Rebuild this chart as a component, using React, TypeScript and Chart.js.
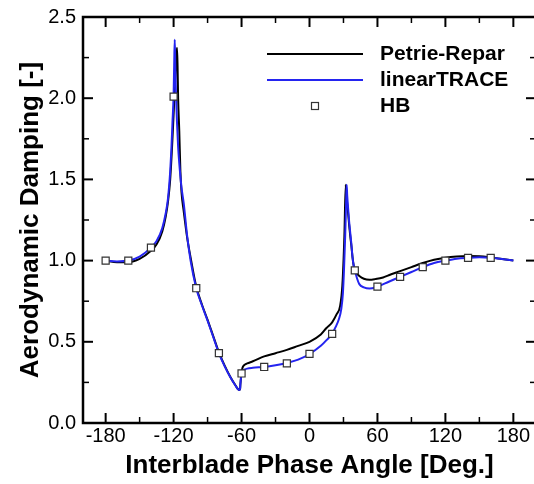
import React, { useEffect, useRef } from "react";
import { Chart, registerables } from "chart.js";

Chart.register(...registerables);

// Petrie-Repar (black line)
const petrieAngle = [
  -180, -170, -160, -150, -140, -135, -130, -127, -125, -123, -121, -120, -119, -118, -117,
  -116.5, -116, -115, -114, -113, -111, -108, -105, -100, -95, -90, -85, -80, -75, -70,
  -65, -63, -62, -61.3, -61, -60.3, -59.5, -58.5, -57, -55, -50, -40, -30, -20, -10, 0, 10,
  15, 20, 24, 27, 29, 30.8, 32, 32.6, 33.3, 34, 35, 36, 37, 38, 39, 40, 42, 44, 48, 53, 58,
  65, 70, 80, 90, 100, 110, 120, 130, 140, 150, 160, 170, 180,
];
const petrieValue = [
  1.0, 0.99, 0.99, 1.01, 1.06, 1.1, 1.18, 1.27, 1.36, 1.5, 1.75, 1.9, 2.05, 2.2, 2.31,
  2.2, 2.0, 1.8, 1.55, 1.42, 1.3, 1.14, 1.02, 0.84, 0.73, 0.635, 0.535, 0.435, 0.355, 0.285,
  0.228, 0.208, 0.203, 0.21, 0.24, 0.29, 0.33, 0.35, 0.36, 0.367, 0.38, 0.41, 0.43, 0.45, 0.475, 0.5, 0.545,
  0.585, 0.62, 0.67, 0.72, 0.846, 1.15, 1.467, 1.4, 1.35, 1.3, 1.22, 1.15, 1.09, 1.02, 0.97, 0.94, 0.92, 0.905, 0.888, 0.882, 0.886,
  0.896, 0.91, 0.935, 0.96, 0.985, 1.005, 1.018, 1.025, 1.028, 1.027, 1.02, 1.01, 1.0,
];

// linearTRACE (blue line)
const traceAngle = [
  -180, -170, -160, -150, -140, -135, -130, -127, -125, -123, -122, -121, -120, -119.5, -119,
  -118.5, -118, -117, -116, -115, -113, -111, -108, -105, -100, -95, -90, -85, -80, -75, -70,
  -65, -63, -62, -61.3, -61, -60.5, -60, -59, -57, -55, -50, -45, -40, -30, -20, -10, 0,
  10, 15, 20, 23, 26, 28, 29.5, 30.5, 31.5, 32.3, 32.8, 33.3, 34, 35, 36, 37, 38, 39, 40, 42,
  44, 48, 53, 60, 70, 80, 90, 100, 110, 120, 130, 140, 150, 160, 170, 180,
];
const traceValue = [
  1.0, 0.995, 1.0, 1.025, 1.08, 1.12, 1.2, 1.29, 1.38, 1.55, 1.68, 1.85, 2.02, 2.2, 2.36,
  2.2, 2.05, 1.85, 1.7, 1.6, 1.45, 1.35, 1.15, 1.0, 0.83, 0.725, 0.63, 0.53, 0.43, 0.35, 0.283,
  0.226, 0.207, 0.203, 0.21, 0.24, 0.28, 0.305, 0.32, 0.33, 0.335, 0.34, 0.343, 0.345, 0.355, 0.37, 0.39, 0.425,
  0.475, 0.51, 0.55, 0.59, 0.64, 0.7, 0.8, 0.95, 1.15, 1.35, 1.467, 1.4, 1.33, 1.24, 1.17, 1.1, 1.02, 0.97, 0.94, 0.89,
  0.855, 0.835, 0.828, 0.84, 0.87, 0.9, 0.93, 0.96, 0.985, 1.0, 1.012, 1.017, 1.02, 1.017, 1.01, 1.0,
];

// HB (square markers)
const hbAngle = [-180, -160, -140, -120, -100, -80, -60, -40, -20, 0, 20, 40, 60, 80, 100, 120, 140, 160];
const hbValue = [1.0, 1.0, 1.08, 2.01, 0.83, 0.43, 0.305, 0.345, 0.367, 0.426, 0.549, 0.94, 0.84, 0.9, 0.96, 1.0, 1.017, 1.017];

const xTickValues = [-180, -120, -60, 0, 60, 120, 180];
const xMinorTickValues = [-150, -90, -30, 30, 90, 150];
const yTickValues = [0, 0.5, 1.0, 1.5, 2.0, 2.5];
const yMinorTickValues = [0.25, 0.75, 1.25, 1.75, 2.25];

const legendLabels = ["Petrie-Repar", "linearTRACE", "HB"];
const xTitle = "Interblade Phase Angle [Deg.]";
const yTitle = "Aerodynamic Damping [-]";

const FONT = '"Liberation Sans", Arial, Helvetica, sans-serif';
const BLUE = "#2424f0";

const framePlugin = {
  id: "frame",
  afterDraw(chart: any) {
    const { ctx, chartArea } = chart;
    const { left, right, top, bottom } = chartArea;
    const xs = chart.scales.x;
    const ys = chart.scales.y;
    ctx.save();
    ctx.strokeStyle = "#000";
    ctx.lineCap = "butt";
    const tick = (x1: number, y1: number, x2: number, y2: number, w: number) => {
      ctx.lineWidth = w;
      ctx.beginPath();
      ctx.moveTo(x1, y1);
      ctx.lineTo(x2, y2);
      ctx.stroke();
    };
    xTickValues.forEach((v) => {
      const px = xs.getPixelForValue(v);
      tick(px, bottom, px, bottom - 10, 2);
      tick(px, top, px, top + 10, 2);
    });
    xMinorTickValues.forEach((v) => {
      const px = xs.getPixelForValue(v);
      tick(px, bottom, px, bottom - 6, 1.5);
      tick(px, top, px, top + 6, 1.5);
    });
    yTickValues.forEach((v) => {
      const py = ys.getPixelForValue(v);
      tick(left, py, left + 10, py, 2);
      tick(right, py, right - 10, py, 2);
    });
    yMinorTickValues.forEach((v) => {
      const py = ys.getPixelForValue(v);
      tick(left, py, left + 6, py, 1.5);
      tick(right, py, right - 6, py, 1.5);
    });
    ctx.lineWidth = 2.5;
    ctx.strokeRect(left, top, right - left, bottom - top);

    // legend
    const lx1 = 267;
    const lx2 = 363;
    const tx = 380;
    const rows = [54, 80, 106];
    ctx.lineWidth = 2;
    ctx.strokeStyle = "#000";
    ctx.beginPath();
    ctx.moveTo(lx1, rows[0]);
    ctx.lineTo(lx2, rows[0]);
    ctx.stroke();
    ctx.strokeStyle = BLUE;
    ctx.beginPath();
    ctx.moveTo(lx1, rows[1]);
    ctx.lineTo(lx2, rows[1]);
    ctx.stroke();
    ctx.fillStyle = "#fff";
    ctx.strokeStyle = "#333";
    ctx.lineWidth = 1.2;
    ctx.fillRect(311.5, rows[2] - 3.5, 7, 7);
    ctx.strokeRect(311.5, rows[2] - 3.5, 7, 7);
    ctx.fillStyle = "#000";
    ctx.font = `bold 21px ${FONT}`;
    ctx.textBaseline = "middle";
    ctx.textAlign = "left";
    legendLabels.forEach((t, i) => ctx.fillText(t, tx, rows[i]));
    ctx.restore();
  },
};

export default function App() {
  const ref = useRef<HTMLCanvasElement | null>(null);
  useEffect(() => {
    if (!ref.current) return;
    const chart = new Chart(ref.current, {
      type: "scatter",
      data: {
        datasets: [
          {
            label: legendLabels[2],
            data: hbAngle.map((a, i) => ({ x: a, y: hbValue[i] })),
            showLine: false,
            pointStyle: "rect",
            pointRadius: 5,
            pointBackgroundColor: "#fff",
            pointBorderColor: "#333",
            pointBorderWidth: 1.2,
            order: 0,
          },
          {
            label: legendLabels[1],
            data: traceAngle.map((a, i) => ({ x: a, y: traceValue[i] })),
            showLine: true,
            borderColor: BLUE,
            borderWidth: 2,
            pointRadius: 0,
            cubicInterpolationMode: "monotone",
            order: 1,
          },
          {
            label: legendLabels[0],
            data: petrieAngle.map((a, i) => ({ x: a, y: petrieValue[i] })),
            showLine: true,
            borderColor: "#000",
            borderWidth: 2,
            pointRadius: 0,
            cubicInterpolationMode: "monotone",
            order: 2,
          },
        ],
      } as any,
      options: {
        animation: false,
        responsive: false,
        events: [],
        layout: { padding: { left: 0, top: 10, right: 9, bottom: 0 } },
        plugins: { legend: { display: false }, tooltip: { enabled: false } },
        scales: {
          x: {
            type: "linear",
            min: -200,
            max: 200,
            afterBuildTicks: (s: any) => {
              s.ticks = xTickValues.map((v) => ({ value: v }));
            },
            afterFit: (s: any) => {
              s.height = 61;
            },
            grid: { display: false, drawTicks: false },
            border: { display: false },
            ticks: {
              color: "#000",
              font: { family: FONT, size: 20, lineHeight: 1 },
              padding: 3,
              maxRotation: 0,
              autoSkip: false,
              callback: (v: any) => String(v),
            },
            title: {
              display: true,
              text: xTitle,
              color: "#000",
              font: { family: FONT, size: 26, weight: "bold", lineHeight: 1.2 },
              padding: { top: 0, bottom: 3 },
            },
          },
          y: {
            type: "linear",
            min: 0,
            max: 2.5,
            afterBuildTicks: (s: any) => {
              s.ticks = yTickValues.map((v) => ({ value: v }));
            },
            afterFit: (s: any) => {
              s.width = 83;
            },
            grid: { display: false, drawTicks: false },
            border: { display: false },
            ticks: {
              color: "#000",
              font: { family: FONT, size: 20, lineHeight: 1 },
              padding: 7,
              callback: (v: any) => Number(v).toFixed(1),
            },
            title: {
              display: true,
              text: yTitle,
              color: "#000",
              font: { family: FONT, size: 26, weight: "bold", lineHeight: 1.2 },
              padding: { top: 15, bottom: 0 },
            },
          },
        },
      } as any,
      plugins: [framePlugin],
    });
    return () => chart.destroy();
  }, []);
  return (
    <div
      style={{
        position: "fixed",
        left: 0,
        top: 0,
        width: 534,
        height: 484,
        overflow: "hidden",
        background: "#fff",
      }}
    >
      <canvas ref={ref} width={545} height={484} style={{ display: "block" }} />
    </div>
  );
}
